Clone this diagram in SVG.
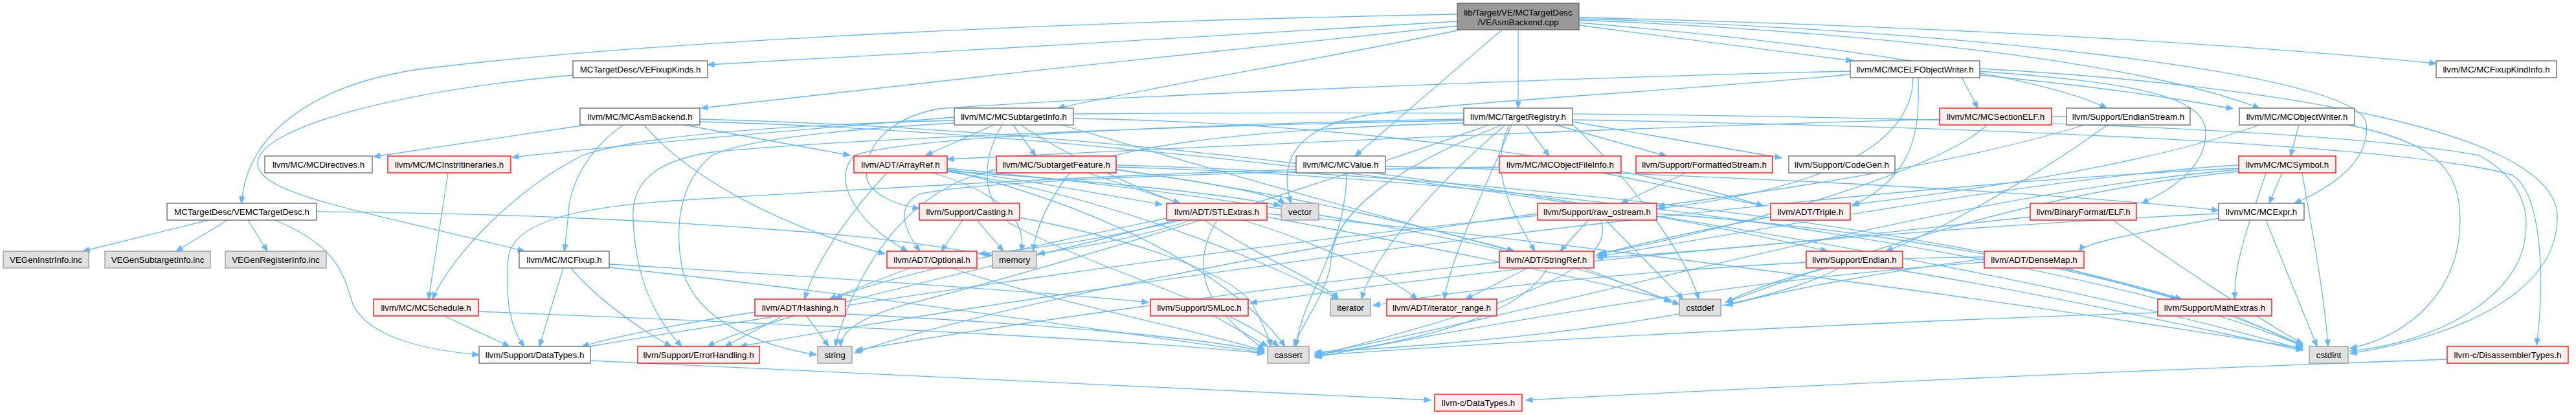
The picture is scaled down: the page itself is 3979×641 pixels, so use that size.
<svg xmlns="http://www.w3.org/2000/svg" width="3979" height="641" viewBox="0 0 3979 641">
<style>
text{font-family:"Liberation Sans",Arial,Helvetica,sans-serif;font-size:13.33px;text-anchor:middle;fill:#000}
.w rect{fill:#fff;stroke:#666;stroke-width:1.3}
.g rect{fill:#e0e0e0;stroke:#999;stroke-width:1.3}
.r rect{fill:#fff0f0;stroke:#f00;stroke-width:1.3}
.root rect{fill:#999;stroke:#666;stroke-width:1.3}
#edges path{fill:none;stroke:#63b8ff;stroke-width:1.3;marker-end:url(#arr)}
</style>
<defs>
<marker id="arr" markerUnits="userSpaceOnUse" markerWidth="11" markerHeight="9" refX="10" refY="4" orient="auto" overflow="visible">
<path d="M0,0 L10,4 L0,8 z" fill="#63b8ff" stroke="#63b8ff" stroke-width="1"/>
</marker>
</defs>
<rect width="3979" height="641" fill="#fff"/>
<g id="edges">
<path d="M2251,33 C1900,55 1450,80 1093,100"/>
<path d="M2251,22 C1700,32 1000,62 640,108 C470,135 380,215 373,314"/>
<path d="M2251,40 C1900,75 1450,125 1083,167"/>
<path d="M2256,46 C2050,90 1800,130 1634,167"/>
<path d="M2345,46 L2345,167"/>
<path d="M2320,46 L2093,241"/>
<path d="M2439,39 L2862,94"/>
<path d="M2439,27 C2900,38 3400,62 3763,98"/>
<path d="M2439,31 C2900,50 3300,95 3490,167"/>
<path d="M2439,35 C2800,65 3150,115 3254,167"/>
<path d="M2439,29 C3000,45 3640,110 3655,190 C3662,250 3600,290 3544,314"/>
<path d="M885,116 C620,140 405,195 398,250 C392,300 560,325 810,388"/>
<path d="M3030,119 L3055,167"/>
<path d="M3058,116 C3250,135 3350,150 3449,168"/>
<path d="M3058,110 C3250,125 3400,140 3407,200 C3410,260 3350,295 3308,314"/>
<path d="M2963,119 C2965,200 2960,270 2861,318"/>
<path d="M2955,119 C2955,230 2800,295 2561,322"/>
<path d="M2858,110 C2400,120 1700,150 1450,168 C1360,185 1330,240 1340,280 C1350,300 1380,316 1420,322"/>
<path d="M2858,115 C2600,140 2200,160 2100,180 C2000,200 1975,250 1994,314"/>
<path d="M3058,106 C3500,130 3940,200 3950,330 C3955,450 3800,520 3630,546"/>
<path d="M905,193 L577,242"/>
<path d="M963,193 C915,225 880,280 878,330 L872,388"/>
<path d="M1057,193 L1313,240"/>
<path d="M995,193 C1060,270 1200,350 1367,392"/>
<path d="M1081,184 C1700,200 2400,290 2823,388"/>
<path d="M1081,188 C1900,210 3000,380 3557,540"/>
<path d="M1474,181 C1300,195 1000,220 791,243"/>
<path d="M1474,186 C1250,192 1000,205 900,240 C800,290 700,390 668,462"/>
<path d="M1535,193 L1430,240"/>
<path d="M1565,193 L1600,241"/>
<path d="M1576,193 C1650,240 1750,290 1823,314"/>
<path d="M1640,193 C1800,240 2000,300 2338,388"/>
<path d="M1658,183 C2100,190 2500,250 2724,318"/>
<path d="M1548,193 C1520,240 1510,300 1560,345 C1700,420 1900,470 1975,535"/>
<path d="M1658,176 C2400,170 3500,180 3830,240 C3900,280 3905,330 3901,360 C3895,460 3760,530 3630,542"/>
<path d="M1474,190 C1300,200 1150,215 1100,240 C1050,280 1040,350 1055,420 C1080,500 1180,535 1261,548"/>
<path d="M2357,193 L2393,241"/>
<path d="M2403,193 L2574,241"/>
<path d="M2429,188 L2752,244"/>
<path d="M2331,193 C2300,260 2330,320 2371,388"/>
<path d="M2325,193 C2200,300 2120,400 2103,462"/>
<path d="M2335,193 C2290,300 2240,400 2231,462"/>
<path d="M2261,184 C1900,190 1400,210 1320,240 C1280,280 1330,350 1402,388"/>
<path d="M2261,186 C1800,195 1300,215 1100,235 C1000,250 975,290 978,340 C982,430 1010,490 1053,535"/>
<path d="M2320,193 C2150,260 2060,330 2056,400 C2053,450 2010,500 1999,535"/>
<path d="M2429,192 C2500,260 2600,380 2624,462"/>
<path d="M2429,185 C3000,195 3700,220 3880,270 C3930,300 3930,450 3918,533"/>
<path d="M2261,190 C1900,200 1700,230 1650,270 C1620,310 1600,350 1596,388"/>
<path d="M2300,193 C2000,300 1600,420 1400,470 C1330,490 1300,510 1298,535"/>
<path d="M3069,193 C3000,260 2700,350 2471,392"/>
<path d="M3192,180 C2600,190 1800,230 1463,246"/>
<path d="M3255,193 C3150,270 2990,360 2913,388"/>
<path d="M3220,193 C3000,260 2700,300 2561,318"/>
<path d="M3551,193 L3538,241"/>
<path d="M3490,193 C3300,260 3000,300 2861,316"/>
<path d="M3627,193 C3760,220 3800,260 3800,340 C3800,450 3720,520 3630,538"/>
<path d="M692,267 L662,462"/>
<path d="M1370,267 C1320,320 1260,400 1243,462"/>
<path d="M1463,262 C1600,280 1700,300 1795,316"/>
<path d="M1463,264 C1700,280 1900,300 1978,318"/>
<path d="M1440,267 C1520,290 1590,330 1577,388"/>
<path d="M1463,262 C1700,320 1900,420 1985,535"/>
<path d="M1463,260 C1900,300 2400,380 2581,467"/>
<path d="M1463,265 C1700,300 1950,400 2067,462"/>
<path d="M1680,267 L1823,314"/>
<path d="M1724,262 C2000,300 2200,350 2339,388"/>
<path d="M1724,255 C2300,270 3000,350 3370,462"/>
<path d="M1724,262 C1850,280 1950,295 1985,314"/>
<path d="M1539,262 C1400,290 1320,420 1290,535"/>
<path d="M1724,258 C2500,280 3300,420 3557,535"/>
<path d="M2141,257 C2700,270 3200,300 3427,325"/>
<path d="M2002,262 C1700,270 1200,300 1040,310 C900,320 790,340 785,400 C780,470 790,510 810,535"/>
<path d="M2080,267 C2080,380 2010,460 2002,535"/>
<path d="M2475,267 L2724,318"/>
<path d="M2316,258 C1900,265 1500,280 1420,300 C1380,320 1400,360 1421,388"/>
<path d="M2604,267 L2504,314"/>
<path d="M3525,267 L3505,314"/>
<path d="M3458,255 C3200,270 2800,340 2471,396"/>
<path d="M3458,260 C2800,290 1800,420 1143,535"/>
<path d="M3500,267 C3480,330 3450,400 3452,462"/>
<path d="M3458,262 C3000,300 2400,480 2031,547"/>
<path d="M3458,265 C3100,300 2800,420 2666,467"/>
<path d="M3556,267 C3570,350 3590,450 3596,535"/>
<path d="M322,340 L128,388"/>
<path d="M351,340 L272,388"/>
<path d="M383,340 L413,388"/>
<path d="M425,340 C520,380 530,420 545,470 C570,520 650,540 740,548"/>
<path d="M489,327 C800,330 1000,340 1200,355 C1350,365 1450,380 1533,395"/>
<path d="M1487,340 L1454,388"/>
<path d="M1509,340 L1550,388"/>
<path d="M1575,336 C1750,370 1900,420 1935,470 C1950,500 1960,520 1963,535"/>
<path d="M1802,337 C1600,380 1350,430 1290,462"/>
<path d="M1825,340 C1700,370 1600,385 1512,392"/>
<path d="M1840,340 C1750,370 1650,385 1603,392"/>
<path d="M1860,340 C1950,400 2050,440 2067,462"/>
<path d="M1920,340 C2050,380 2150,430 2189,462"/>
<path d="M1815,340 C1600,400 1200,480 1093,535"/>
<path d="M1880,340 C1820,440 1900,500 1953,540"/>
<path d="M1957,335 C2200,380 2450,430 2581,464"/>
<path d="M1957,330 C2500,380 3200,480 3557,538"/>
<path d="M2453,340 L2410,388"/>
<path d="M2481,341 L2600,462"/>
<path d="M2473,341 C2500,420 2300,480 2031,550"/>
<path d="M2559,330 C3000,360 3400,450 3557,536"/>
<path d="M2375,330 C2000,380 1500,480 1320,545"/>
<path d="M2375,333 C1900,380 1300,470 899,537"/>
<path d="M2735,335 C2600,360 2520,380 2466,394"/>
<path d="M3136,335 C2900,360 2700,385 2466,398"/>
<path d="M3264,340 C3350,400 3500,500 3557,531"/>
<path d="M3427,337 C3300,360 3220,375 3212,388"/>
<path d="M3427,330 C3000,350 2400,400 1931,468"/>
<path d="M3500,340 L3579,535"/>
<path d="M870,414 L833,535"/>
<path d="M882,414 C920,460 990,510 1037,535"/>
<path d="M941,408 C1300,430 1600,450 1774,467"/>
<path d="M941,413 C1300,450 1700,510 1953,545"/>
<path d="M1405,414 L1281,462"/>
<path d="M1470,414 C1600,460 1850,510 1953,542"/>
<path d="M2360,414 L2264,462"/>
<path d="M2390,414 C2360,470 2250,520 2031,548"/>
<path d="M2446,414 L2594,470"/>
<path d="M2316,405 C1900,450 1500,510 1322,541"/>
<path d="M2824,414 C2750,430 2700,450 2666,467"/>
<path d="M2841,414 C2700,490 2300,530 2031,544"/>
<path d="M2913,414 C3200,460 3450,520 3557,541"/>
<path d="M3190,414 L3363,462"/>
<path d="M3065,405 C2700,430 2300,500 2031,552"/>
<path d="M3065,400 C2900,420 2750,450 2666,472"/>
<path d="M3065,397 C2700,400 2300,440 2121,472"/>
<path d="M686,488 L787,535"/>
<path d="M739,481 C1200,500 1700,520 1953,546"/>
<path d="M1209,488 L1120,535"/>
<path d="M1246,488 L1280,535"/>
<path d="M1166,482 C1050,500 950,520 899,535"/>
<path d="M1306,485 C1600,500 1850,520 1953,543"/>
<path d="M1875,488 L1958,535"/>
<path d="M3452,488 L3557,533"/>
<path d="M3333,483 C2800,500 2300,530 2031,549"/>
<path d="M912,557 C1400,580 1900,605 2210,618"/>
<path d="M3780,555 C3200,575 2700,600 2357,618"/>
</g>
<g id="n-root" class="root"><rect x="2251" y="5" width="188" height="41"/><text x="2345" y="23.5">lib/Target/VE/MCTargetDesc</text><text x="2345" y="38.5">/VEAsmBackend.cpp</text></g>
<g id="n-vefixupkinds" class="w"><rect x="885" y="94" width="208" height="26"/><text x="989" y="112">MCTargetDesc/VEFixupKinds.h</text></g>
<g id="n-mcelfobjectwriter" class="w"><rect x="2858" y="94" width="200" height="26"/><text x="2958" y="112">llvm/MC/MCELFObjectWriter.h</text></g>
<g id="n-mcfixupkindinfo" class="w"><rect x="3763" y="94" width="186" height="26"/><text x="3856" y="112">llvm/MC/MCFixupKindInfo.h</text></g>
<g id="n-mcasmbackend" class="w"><rect x="896" y="167" width="185" height="26"/><text x="988.5" y="185">llvm/MC/MCAsmBackend.h</text></g>
<g id="n-mcsubtargetinfo" class="w"><rect x="1474" y="167" width="184" height="26"/><text x="1566" y="185">llvm/MC/MCSubtargetInfo.h</text></g>
<g id="n-targetregistry" class="w"><rect x="2261" y="167" width="168" height="26"/><text x="2345" y="185">llvm/MC/TargetRegistry.h</text></g>
<g id="n-mcsectionelf" class="r"><rect x="2996" y="167" width="173" height="26"/><text x="3082.5" y="185">llvm/MC/MCSectionELF.h</text></g>
<g id="n-endianstream" class="w"><rect x="3192" y="167" width="191" height="26"/><text x="3287.5" y="185">llvm/Support/EndianStream.h</text></g>
<g id="n-mcobjectwriter" class="w"><rect x="3459" y="167" width="178" height="26"/><text x="3548" y="185">llvm/MC/MCObjectWriter.h</text></g>
<g id="n-mcdirectives" class="w"><rect x="409" y="241" width="166" height="26"/><text x="492" y="259">llvm/MC/MCDirectives.h</text></g>
<g id="n-mcinstritineraries" class="r"><rect x="599" y="241" width="190" height="26"/><text x="694" y="259">llvm/MC/MCInstrItineraries.h</text></g>
<g id="n-arrayref" class="r"><rect x="1319" y="241" width="144" height="26"/><text x="1391" y="259">llvm/ADT/ArrayRef.h</text></g>
<g id="n-subtargetfeature" class="r"><rect x="1539" y="241" width="185" height="26"/><text x="1631.5" y="259">llvm/MC/SubtargetFeature.h</text></g>
<g id="n-mcvalue" class="w"><rect x="2002" y="241" width="138" height="26"/><text x="2071" y="259">llvm/MC/MCValue.h</text></g>
<g id="n-mcobjectfileinfo" class="r"><rect x="2316" y="241" width="188" height="26"/><text x="2410" y="259">llvm/MC/MCObjectFileInfo.h</text></g>
<g id="n-formattedstream" class="r"><rect x="2527" y="241" width="211" height="26"/><text x="2632.5" y="259">llvm/Support/FormattedStream.h</text></g>
<g id="n-codegen" class="w"><rect x="2763" y="241" width="164" height="26"/><text x="2845" y="259">llvm/Support/CodeGen.h</text></g>
<g id="n-mcsymbol" class="r"><rect x="3458" y="241" width="150" height="26"/><text x="3533" y="259">llvm/MC/MCSymbol.h</text></g>
<g id="n-vemctargetdesc" class="w"><rect x="258" y="314" width="231" height="26"/><text x="373.5" y="332">MCTargetDesc/VEMCTargetDesc.h</text></g>
<g id="n-casting" class="r"><rect x="1420" y="314" width="155" height="26"/><text x="1497.5" y="332">llvm/Support/Casting.h</text></g>
<g id="n-stlextras" class="r"><rect x="1802" y="314" width="155" height="26"/><text x="1879.5" y="332">llvm/ADT/STLExtras.h</text></g>
<g id="n-vector" class="g"><rect x="1979" y="314" width="58" height="26"/><text x="2008" y="332">vector</text></g>
<g id="n-raw_ostream" class="r"><rect x="2375" y="314" width="184" height="26"/><text x="2467" y="332">llvm/Support/raw_ostream.h</text></g>
<g id="n-triple" class="r"><rect x="2735" y="314" width="123" height="26"/><text x="2796.5" y="332">llvm/ADT/Triple.h</text></g>
<g id="n-elf" class="r"><rect x="3136" y="314" width="164" height="26"/><text x="3218" y="332">llvm/BinaryFormat/ELF.h</text></g>
<g id="n-mcexpr" class="w"><rect x="3427" y="314" width="132" height="26"/><text x="3493" y="332">llvm/MC/MCExpr.h</text></g>
<g id="n-vegeninstrinfo" class="g"><rect x="5" y="388" width="132" height="26"/><text x="71" y="406">VEGenInstrInfo.inc</text></g>
<g id="n-vegensubtargetinfo" class="g"><rect x="162" y="388" width="163" height="26"/><text x="243.5" y="406">VEGenSubtargetInfo.inc</text></g>
<g id="n-vegenregisterinfo" class="g"><rect x="348" y="388" width="156" height="26"/><text x="426" y="406">VEGenRegisterInfo.inc</text></g>
<g id="n-mcfixup" class="w"><rect x="802" y="388" width="139" height="26"/><text x="871.5" y="406">llvm/MC/MCFixup.h</text></g>
<g id="n-optional" class="r"><rect x="1370" y="388" width="139" height="26"/><text x="1439.5" y="406">llvm/ADT/Optional.h</text></g>
<g id="n-memory" class="g"><rect x="1533" y="388" width="68" height="26"/><text x="1567" y="406">memory</text></g>
<g id="n-stringref" class="r"><rect x="2316" y="388" width="146" height="26"/><text x="2389" y="406">llvm/ADT/StringRef.h</text></g>
<g id="n-endian" class="r"><rect x="2790" y="388" width="149" height="26"/><text x="2864.5" y="406">llvm/Support/Endian.h</text></g>
<g id="n-densemap" class="r"><rect x="3065" y="388" width="154" height="26"/><text x="3142" y="406">llvm/ADT/DenseMap.h</text></g>
<g id="n-mcschedule" class="r"><rect x="577" y="462" width="162" height="26"/><text x="658" y="480">llvm/MC/MCSchedule.h</text></g>
<g id="n-hashing" class="r"><rect x="1166" y="462" width="140" height="26"/><text x="1236" y="480">llvm/ADT/Hashing.h</text></g>
<g id="n-smloc" class="r"><rect x="1777" y="462" width="151" height="26"/><text x="1852.5" y="480">llvm/Support/SMLoc.h</text></g>
<g id="n-iterator" class="g"><rect x="2055" y="462" width="62" height="26"/><text x="2086" y="480">iterator</text></g>
<g id="n-iterator_range" class="r"><rect x="2142" y="462" width="170" height="26"/><text x="2227" y="480">llvm/ADT/iterator_range.h</text></g>
<g id="n-cstddef" class="g"><rect x="2594" y="462" width="64" height="26"/><text x="2626" y="480">cstddef</text></g>
<g id="n-mathextras" class="r"><rect x="3333" y="462" width="176" height="26"/><text x="3421" y="480">llvm/Support/MathExtras.h</text></g>
<g id="n-datatypes" class="w"><rect x="740" y="535" width="172" height="26"/><text x="826" y="553">llvm/Support/DataTypes.h</text></g>
<g id="n-errorhandling" class="r"><rect x="985" y="535" width="188" height="26"/><text x="1079" y="553">llvm/Support/ErrorHandling.h</text></g>
<g id="n-string" class="g"><rect x="1263" y="535" width="53" height="26"/><text x="1289.5" y="553">string</text></g>
<g id="n-cassert" class="g"><rect x="1958" y="535" width="64" height="26"/><text x="1990" y="553">cassert</text></g>
<g id="n-cstdint" class="g"><rect x="3567" y="535" width="60" height="26"/><text x="3597" y="553">cstdint</text></g>
<g id="n-disassemblertypes" class="r"><rect x="3780" y="535" width="187" height="26"/><text x="3873.5" y="553">llvm-c/DisassemblerTypes.h</text></g>
<g id="n-c-datatypes" class="r"><rect x="2216" y="609" width="135" height="26"/><text x="2283.5" y="627">llvm-c/DataTypes.h</text></g>
</svg>
